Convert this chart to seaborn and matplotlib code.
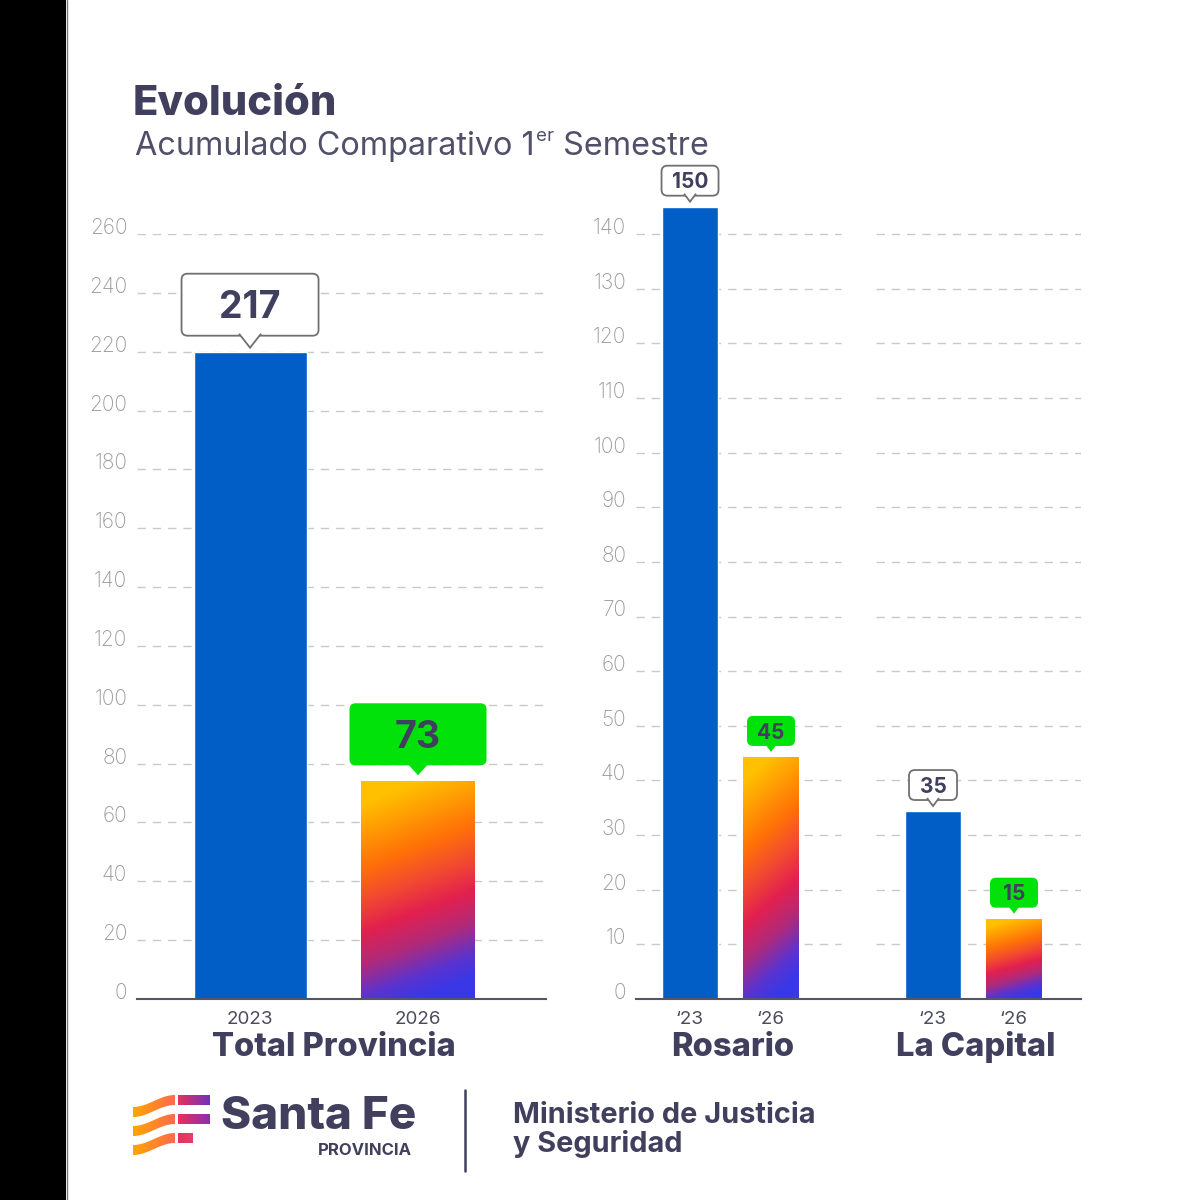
import numpy as np
import pandas as pd
import matplotlib
matplotlib.use('Agg')
import matplotlib.pyplot as plt
import seaborn as sns
from matplotlib.colors import LinearSegmentedColormap
from matplotlib.patches import Rectangle, FancyBboxPatch, Polygon

# ---- data ----
total_years = ['2023', '2026']
total_bars = [220, 74]          # bar heights as drawn
total_labels = ['217', '73']    # numbers in the callouts

region_slots = ['R23', 'R26', 'gap', 'L23', 'L26']
region_keys = ['R23', 'R26', 'L23', 'L26']
region_ticks = ['\u201823', '\u201826', '\u201823', '\u201826']
region_bars = [145, 44.3, 34.4, 14.7]
region_labels = ['150', '45', '35', '15']
region_groups = ['Rosario', 'La Capital']

left_ticks = list(range(0, 261, 20))
right_ticks = list(range(0, 141, 10))

sns.set_theme(style='white')
plt.rcParams['font.family'] = ['Inter', 'DejaVu Sans']

DARK = '#40405e'
GRAY = '#9a9a9a'
BLUE = '#005ec6'
GREEN = '#00e20a'
GRID = '#c9c9c9'

grad_cmap = LinearSegmentedColormap.from_list('sf', [
    (0.0, '#3a38e6'), (0.1, '#5a33d0'), (0.25, '#b02a7a'), (0.4, '#e2204f'),
    (0.55, '#f24a30'), (0.7, '#ff7008'), (1.0, '#ffc000')])

fig = plt.figure(figsize=(12, 12), dpi=100)
fig.patch.set_facecolor('white')


def px_axes(x0, y_top, x1, y_bot):
    return fig.add_axes([x0 / 1200, 1 - y_bot / 1200, (x1 - x0) / 1200, (y_bot - y_top) / 1200])


ax1 = px_axes(137, 234, 546, 999)
ax2 = px_axes(636, 999 - 765 * 150 / 140, 1081, 999)

df1 = pd.DataFrame({'year': total_years, 'value': total_bars})
sns.barplot(data=df1, x='year', y='value', color=BLUE, saturation=1, width=0.673, ax=ax1)

df2 = pd.DataFrame({'slot': region_keys, 'value': region_bars})
sns.barplot(data=df2, x='slot', y='value', order=region_slots, color=BLUE, saturation=1,
            width=0.68, ax=ax2)


def gradient_fill(ax, clip, extent, cmap, diag=0.0, vertical=True):
    yy, xx = np.mgrid[0:1:200j, 0:1:80j]
    if vertical:
        z = np.clip(yy + diag * (0.5 - xx), 0, 1)
    else:
        z = xx
    im = ax.imshow(z, extent=extent, origin='lower', cmap=cmap, vmin=0, vmax=1,
                   aspect='auto', zorder=clip.get_zorder(), interpolation='bilinear')
    im.set_clip_path(clip)
    return im


def paint_gradient(ax, patch):
    x, w, h = patch.get_x(), patch.get_width(), patch.get_height()
    gradient_fill(ax, patch, [x, x + w, 0, h], grad_cmap, diag=0.2)
    patch.set_facecolor('none')
    patch.set_edgecolor('none')


for p in list(ax1.patches):
    if round(p.get_x() + p.get_width() / 2) == 1:
        paint_gradient(ax1, p)
for p in list(ax2.patches):
    if round(p.get_x() + p.get_width() / 2) in (1, 4):
        paint_gradient(ax2, p)

dash = (0, (6, 5))
ax1.set_xlim(-0.673, 1.762)
ax1.set_ylim(0, 260)
ax1.hlines(left_ticks[1:], -0.673, 1.762, colors=GRID, linestyles=dash, linewidth=1, zorder=0)
ax1.set_yticks(left_ticks)

ax2.set_xlim(-0.667, 4.827)
ax2.set_ylim(0, 150)
ax2.hlines(right_ticks[1:], -0.667, 1.864, colors=GRID, linestyles=dash, linewidth=1, zorder=0)
ax2.hlines(right_ticks[1:], 2.296, 4.827, colors=GRID, linestyles=dash, linewidth=1, zorder=0)
ax2.set_yticks(right_ticks)
ax2.set_xticks([0, 1, 3, 4])
ax2.set_xticklabels(region_ticks)

for ax in (ax1, ax2):
    ax.set_facecolor('none')
    ax.set_xlabel('')
    ax.set_ylabel('')
    for s in ('top', 'right', 'left'):
        ax.spines[s].set_visible(False)
    ax.spines['bottom'].set_color('#55556a')
    ax.spines['bottom'].set_linewidth(1.5)
    ax.spines['bottom'].set_zorder(3)
    ax.tick_params(axis='y', length=0, pad=7, labelsize=15, labelcolor=GRAY)
    ax.tick_params(axis='x', length=0, pad=9, labelsize=13.5, labelcolor='#4b4b5e')
    for t in ax.yaxis.get_major_ticks():
        t.label1.set_verticalalignment('baseline')
        t.label1.set_fontweight('light')

# overlay in pixel coordinates for the decorations
ov = fig.add_axes([0, 0, 1, 1], zorder=10)
ov.axis('off')
ov.patch.set_alpha(0)
ov.set_xlim(0, 1200)
ov.set_ylim(1200, 0)

ov.add_patch(Rectangle((0, 0), 66, 1200, fc='black', ec='none'))
ov.plot([67, 67], [0, 1200], color='#777777', lw=1)


def to_px(ax, x, y):
    a, b = ax.transData.transform((x, y))
    return a, 1200 - b


def callout(ax, xpos, top, text, w, h, gap, fill, edge, fs, tw, th):
    px, py = to_px(ax, xpos, top)
    yb = py - gap
    lw = 1.3 if edge != 'none' else 0
    ov.add_patch(FancyBboxPatch((px - w / 2, yb - h), w, h, boxstyle='round,pad=0,rounding_size=6',
                                fc=fill, ec=edge, lw=lw, zorder=5))
    ov.add_patch(Polygon([(px - tw / 2, yb - 2), (px, yb + th), (px + tw / 2, yb - 2)], closed=False,
                         fc=fill, ec=edge, lw=lw, zorder=6))
    cap = 0.727 * fs * 100 / 72
    ov.text(px, yb - h / 2 + cap / 2, text, ha='center', va='baseline', fontsize=fs,
            fontweight='bold', color=DARK, zorder=7)


callout(ax1, 0, total_bars[0], total_labels[0], 137, 62, 16, 'white', '#707070', 27, 22, 12)
callout(ax1, 1, total_bars[1], total_labels[1], 137, 62, 16, GREEN, 'none', 27, 22, 10)
styles = {0: ('white', '#707070'), 1: (GREEN, 'none'), 3: ('white', '#707070'), 4: (GREEN, 'none')}
for pos, val, lab in zip([0, 1, 3, 4], region_bars, region_labels):
    fc, ec = styles[pos]
    w = 57 if len(lab) == 3 else 48
    callout(ax2, pos, val, lab, w, 30, 11, fc, ec, 15, 12, 6)

# titles
ov.text(133, 115, 'Evolución', fontsize=30, fontweight='heavy', color=DARK, va='baseline')
renderer = fig.canvas.get_renderer()
inv = ov.transData.inverted()
t1 = ov.text(135, 155, 'Acumulado Comparativo 1', fontsize=23.3, color='#50506a', va='baseline')
x_end = inv.transform((t1.get_window_extent(renderer).x1, 0))[0]
t2 = ov.text(x_end + 1, 141, 'er', fontsize=13.5, color='#50506a', va='baseline')
x_end2 = inv.transform((t2.get_window_extent(renderer).x1, 0))[0]
ov.text(x_end2, 155, ' Semestre', fontsize=23.3, color='#50506a', va='baseline')

# group labels
gx = (to_px(ax1, 0, 0)[0] + to_px(ax1, 1, 0)[0]) / 2
ov.text(gx, 1056, 'Total Provincia', fontsize=23.5, fontweight='heavy', color=DARK, ha='center', va='baseline')
for (a, b), name in zip([(0, 1), (3, 4)], region_groups):
    gx = (to_px(ax2, a, 0)[0] + to_px(ax2, b, 0)[0]) / 2
    ov.text(gx + 2, 1056, name, fontsize=23.5, fontweight='heavy', color=DARK, ha='center', va='baseline')

# footer logo: three waves + three bars
wave_cmap = LinearSegmentedColormap.from_list('w', ['#ffa600', '#ff6a4e'])
for yc, x_end_blk, c_end in [(1100, 210, '#7030c0'), (1119, 210, '#8a30b0'), (1138, 193, '#e2406a')]:
    xs = np.linspace(133, 175, 60)
    mid = yc + 12 * (1 + np.cos(np.pi * (xs - 133) / 42)) / 2
    verts = np.vstack([np.column_stack([xs, mid - 5]), np.column_stack([xs[::-1], mid[::-1] + 5])])
    wave = Polygon(verts, closed=True, fc='none', ec='none', zorder=5)
    ov.add_patch(wave)
    gradient_fill(ov, wave, [133, 175, 1160, 1080], wave_cmap, vertical=False)
    blk = Rectangle((178, yc - 5), x_end_blk - 178, 10, fc='none', ec='none', zorder=5)
    ov.add_patch(blk)
    gradient_fill(ov, blk, [178, x_end_blk, 1160, 1080],
                  LinearSegmentedColormap.from_list('b', ['#e8305a', c_end]), vertical=False)

ov.text(221, 1129, 'Santa Fe', fontsize=33, fontweight='heavy', color=DARK, va='baseline')
ov.text(412, 1155, 'PROVINCIA', fontsize=12, fontweight='bold', color=DARK, va='baseline', ha='right')
ov.plot([465, 465], [1090, 1171], color=DARK, lw=1.8)
ov.text(513, 1123, 'Ministerio de Justicia', fontsize=20.8, fontweight='bold', color=DARK, va='baseline')
ov.text(513, 1152, 'y Seguridad', fontsize=20.8, fontweight='bold', color=DARK, va='baseline')

ov.set_xlim(0, 1200)
ov.set_ylim(1200, 0)

fig.savefig('out.png', dpi=100)
